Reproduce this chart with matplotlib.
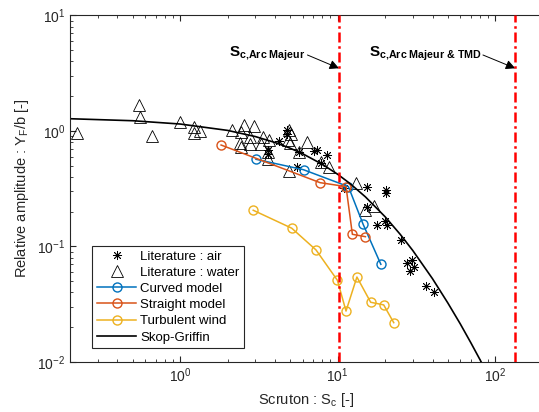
import matplotlib
matplotlib.use("Agg")
import matplotlib.pyplot as plt

plt.rcParams['font.family'] = ['Liberation Sans', 'DejaVu Sans']
plt.rcParams['mathtext.fontset'] = 'custom'
plt.rcParams['mathtext.rm'] = 'Liberation Sans'
plt.rcParams['mathtext.it'] = 'Liberation Sans:italic'
plt.rcParams['mathtext.bf'] = 'Liberation Sans:bold'
plt.rcParams['mathtext.default'] = 'regular'

# literature data, air
air_sc = [3.59, 3.63, 4.22, 4.75, 4.75, 5.69, 5.56, 7.10, 7.36, 8.58, 7.86,
          10.9, 15.4, 20.3, 20.3, 15.3, 17.8, 20.1, 20.6, 25.2, 27.5, 29.8,
          30.7, 28.7, 36.3, 40.7]
air_amp = [0.678, 0.632, 0.819, 1.01, 0.942, 0.652, 0.491, 0.665, 0.685, 0.620,
           0.532, 0.318, 0.327, 0.308, 0.291, 0.218, 0.152, 0.165, 0.154, 0.113,
           0.072, 0.0769, 0.0665, 0.0616, 0.0458, 0.0406]

# literature data, water
water_sc = [0.223, 0.552, 0.553, 0.665, 1.0, 1.22, 1.22, 1.34, 2.12, 2.55, 2.95,
            2.43, 2.77, 3.34, 3.67, 2.41, 2.79, 2.43, 3.26, 3.59, 3.59, 4.92,
            5.04, 4.83, 5.0, 6.37, 5.69, 4.88, 7.81, 8.77, 13.0, 15.0, 17.0]
water_amp = [0.955, 1.68, 1.33, 0.911, 1.185, 1.083, 0.955, 0.996, 1.03, 1.127,
             1.105, 0.986, 0.887, 0.893, 0.836, 0.787, 0.779, 0.72, 0.767, 0.662,
             0.567, 1.02, 0.951, 0.836, 0.787, 0.808, 0.662, 0.448, 0.534, 0.483,
             0.355, 0.207, 0.224]

curved_sc = [3.03, 6.07, 11.7, 14.5, 18.8]
curved_amp = [0.569, 0.462, 0.330, 0.156, 0.0701]

straight_sc = [1.82, 7.73, 11.3, 12.4, 15.0]
straight_amp = [0.756, 0.357, 0.330, 0.1275, 0.1216]

turb_sc = [2.91, 5.11, 7.29, 9.96, 11.3, 13.25, 16.2, 19.6, 22.7]
turb_amp = [0.206, 0.144, 0.0933, 0.0510, 0.0276, 0.0544, 0.0329, 0.0312, 0.0219]

# Skop-Griffin curve
sg_sc = [0.2, 0.5, 1, 2, 3, 4, 5, 6, 8, 10, 12, 15, 20, 25, 30, 40, 50, 60,
         70, 80, 90]
sg_amp = [1.277, 1.227, 1.149, 1.012, 0.895, 0.795, 0.709, 0.635, 0.514, 0.422,
          0.350, 0.269, 0.181, 0.127, 0.0922, 0.0526, 0.0325, 0.0214, 0.0147,
          0.0105, 0.00775]

sc_arc = 10.2
sc_arc_tmd = 134

blue = '#0072BD'
orange = '#D95319'
yellow = '#EDB120'

fig = plt.figure(figsize=(5.39, 4.12), dpi=100)
ax = fig.add_axes([0.1299, 0.1214, 0.8768, 0.841])

ax.plot(air_sc, air_amp, linestyle='none', marker=(8, 2, 0), color='black',
        markersize=6.5, markeredgewidth=0.6, label='Literature : air')
ax.plot(water_sc, water_amp, linestyle='none', marker='^', markerfacecolor='none',
        markeredgecolor='black', markersize=8.5, markeredgewidth=0.6,
        label='Literature : water')
ax.plot(curved_sc, curved_amp, '-o', color=blue, markerfacecolor='none',
        markersize=6.5, lw=1.1, label='Curved model')
ax.plot(straight_sc, straight_amp, '-o', color=orange, markerfacecolor='none',
        markersize=6.5, lw=1.1, label='Straight model')
ax.plot(turb_sc, turb_amp, '-o', color=yellow, markerfacecolor='none',
        markersize=6.5, lw=1.1, label='Turbulent wind')
ax.plot(sg_sc, sg_amp, '-', color='black', lw=1.2, label='Skop-Griffin')

dashdot = (0, (4, 1.5, 1, 1.5))
ax.axvline(sc_arc, color='red', linestyle=dashdot, lw=1.8, zorder=5)
ax.axvline(sc_arc_tmd, color='red', linestyle=dashdot, lw=1.8, zorder=5)

# labels of the two limits, arrow drawn separately
ax.text(6.27, 4.37, r'$\mathbf{S}_{\mathbf{c{,}Arc\ Majeur}}$', ha='right',
        va='baseline', fontsize=11)
ax.text(81.5, 4.37, r'$\mathbf{S}_{\mathbf{c{,}Arc\ Majeur\ &\ TMD}}$', ha='right',
        va='baseline', fontsize=11)
arrow = dict(arrowstyle='-|>', color='black', lw=0.7, mutation_scale=14,
             shrinkA=0, shrinkB=0)
ax.annotate('', xy=(sc_arc, 3.49), xytext=(6.43, 4.55), arrowprops=arrow)
ax.annotate('', xy=(sc_arc_tmd, 3.49), xytext=(83.6, 4.55), arrowprops=arrow)

ax.set_xscale('log')
ax.set_yscale('log')
ax.set_xlim(0.2, 200)
ax.set_ylim(1e-2, 10)

ax.set_xlabel('Scruton : S$_c$ [-]', fontsize=10.5, color='#262626')
ax.set_ylabel('Relative amplitude : Y$_F$/b [-]', fontsize=10.5, color='#262626')

ax.tick_params(which='both', direction='in', top=True, right=False,
               colors='#262626', labelsize=10)
ax.tick_params(which='major', length=4)
ax.tick_params(which='minor', length=2.5)
for s in ax.spines.values():
    s.set_color('#262626')
    s.set_linewidth(0.8)

leg = ax.legend(loc='lower left', bbox_to_anchor=(0.047, 0.04), borderaxespad=0,
                fontsize=9.5, fancybox=False, edgecolor='#262626', framealpha=1,
                handlelength=3.0, handletextpad=0.3, labelspacing=0.3,
                borderpad=0.35)
leg.get_frame().set_linewidth(0.8)

fig.savefig('out.png', dpi=100)
